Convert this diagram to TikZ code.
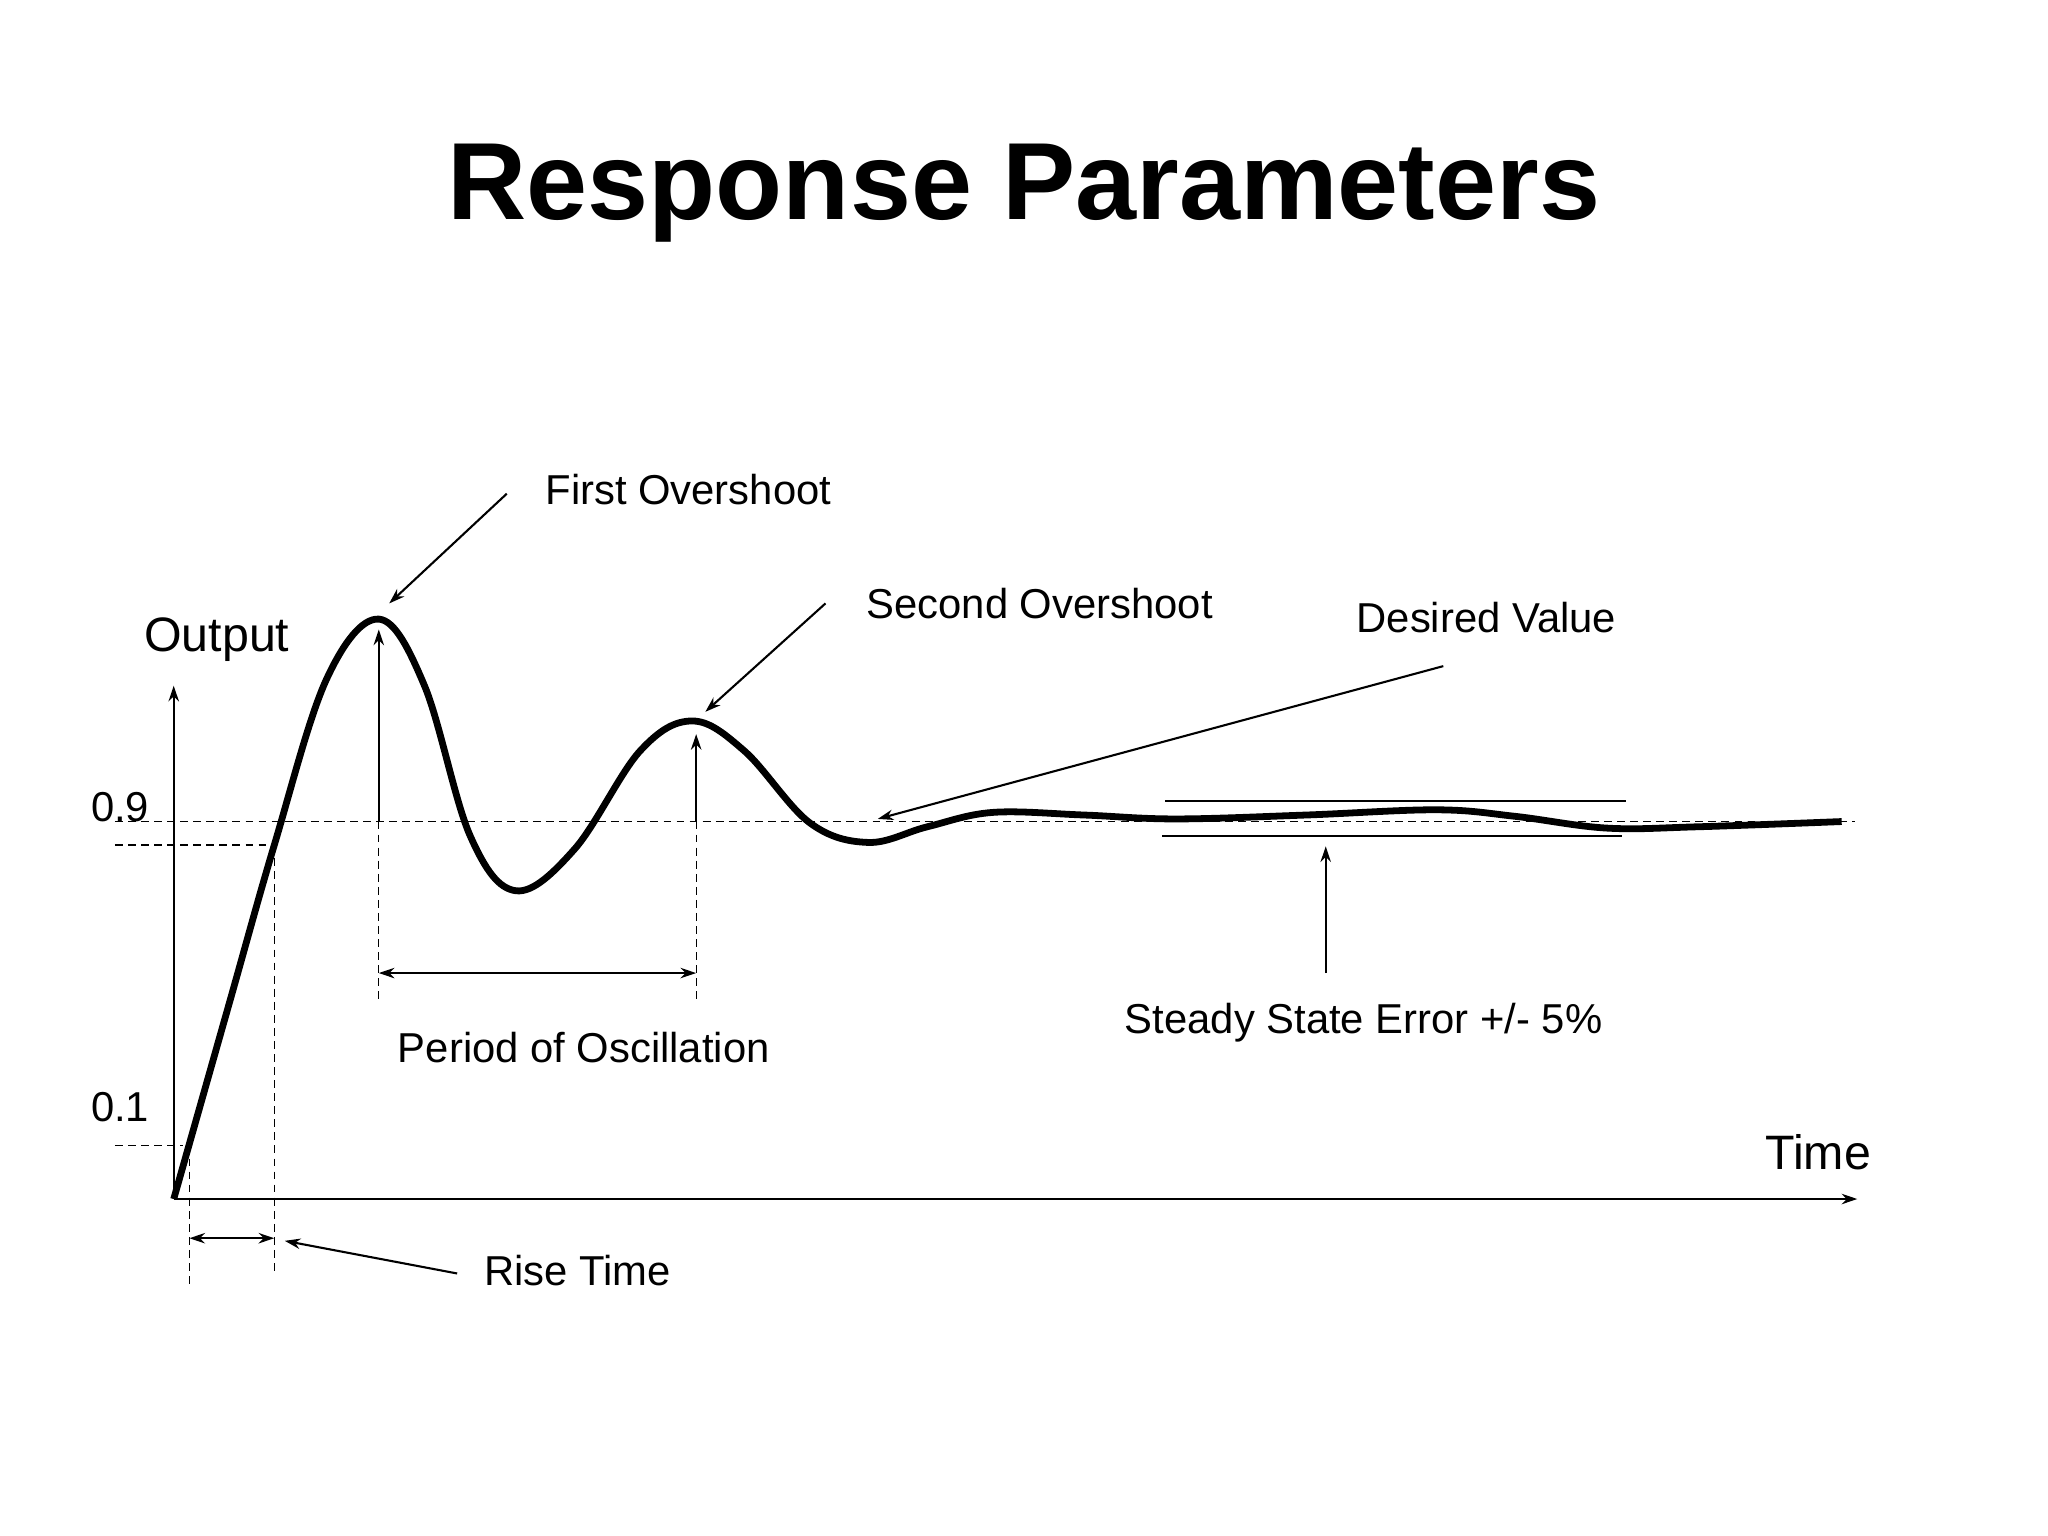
\documentclass[tikz,border=0pt]{standalone}
\usepackage{fontspec}
\setmainfont{Liberation Sans}
\usetikzlibrary{arrows.meta}
\begin{document}
\begin{tikzpicture}[x=0.5pt,y=-0.5pt,
  lbl/.style={font=\fontsize{16}{18}\selectfont},
  big/.style={font=\fontsize{18.5}{20}\selectfont},
  dsh/.style={densely dashed, line width=0.5pt},
  arr/.style={-{Stealth[length=6pt,width=4pt]}, line width=0.8pt},
  darr/.style={{Stealth[length=6pt,width=4pt]}-{Stealth[length=6pt,width=4pt]}, line width=0.8pt}]
\useasboundingbox (0,0) rectangle (1568,1176);
\node (title) at (784,148) {\fontsize{42}{46}\selectfont\bfseries Response Parameters};
% axes
\coordinate (O) at (133,918);
\coordinate (ytop) at (133,525);
\coordinate (xend) at (1422,918);
\draw[arr] (O) -- (ytop);
\draw[arr] (O) -- (xend);
\node[big] (out) at (166,490) {Output};
\node[big] (time) at (1392,882) {Time};
% reference lines
\draw[dsh] (88,629) -- (1420,629);
\draw[dsh] (88,647) -- (210,647);
\draw[dsh] (88,877) -- (140,877);
\node[lbl] (l9) at (92,618) {0.9};
\node[lbl] (l1) at (92,848) {0.1};
% curve
\draw[line width=2.6pt, line join=round] plot[smooth, tension=0.6] coordinates {
 (133,918) (175,770) (210,647) (250,520) (290,474) (325,525) (360,640) (395,682) (440,650) (490,575) (530,552) (570,575) (620,630) (665,645) (710,633) (760,622) (830,624) (900,627) (1000,624) (1100,620) (1160,625) (1230,634) (1300,633) (1410,629)};
% rise time
\draw[dsh] (145,877) -- (145,985);
\draw[dsh] (210,647) -- (210,975);
\coordinate (r1) at (145,948); \coordinate (r2) at (210,948);
\draw[darr] (r1) -- (r2);
\node[lbl] (rise) at (442,973) {Rise Time};
\coordinate (rs) at (350,975); \coordinate (re) at (218,950);
\draw[arr] (rs) -- (re);
% overshoots
\coordinate (p1b) at (290,629); \coordinate (p1t) at (290,482);
\coordinate (p2b) at (533,629); \coordinate (p2t) at (533,562);
\draw[arr] (p1b) -- (p1t);
\draw[arr] (p2b) -- (p2t);
\draw[dsh] (290,629) -- (290,765);
\draw[dsh] (533,629) -- (533,765);
\coordinate (q1) at (290,745); \coordinate (q2) at (533,745);
\draw[darr] (q1) -- (q2);
\node[lbl] (per) at (447,802) {Period of Oscillation};
\node[lbl] (fo) at (527,375) {First Overshoot};
\coordinate (fs) at (388,378); \coordinate (fe) at (298,462);
\draw[arr] (fs) -- (fe);
\node[lbl] (so) at (796,462) {Second Overshoot};
\coordinate (ss) at (632,462); \coordinate (se) at (540,545);
\draw[arr] (ss) -- (se);
\node[lbl] (dv) at (1138,473) {Desired Value};
\coordinate (ds) at (1105,510); \coordinate (de) at (672,627);
\draw[arr] (ds) -- (de);
% steady state
\draw[line width=0.8pt] (892,613) -- (1245,613);
\draw[line width=0.8pt] (890,640) -- (1242,640);
\coordinate (es) at (1015,745); \coordinate (ee) at (1015,648);
\draw[arr] (es) -- (ee);
\node[lbl] (sse) at (1044,783) {Steady State Error +/- 5\%};
\end{tikzpicture}
\end{document}
